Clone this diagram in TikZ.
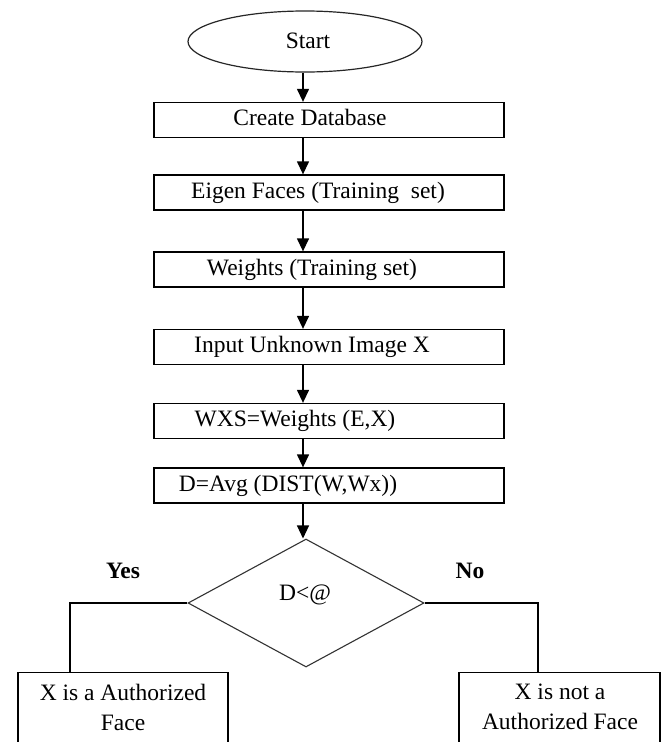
\documentclass[tikz,border=0pt]{standalone}
\usepackage{fontspec}
\setmainfont{Liberation Serif}
\usetikzlibrary{arrows.meta,shapes.geometric}
\tikzset{
  boxed/.style={draw=black,line width=1.3pt,minimum width=350pt,minimum height=35pt,inner sep=0pt},
  txt/.style={inner sep=0pt,font=\fontsize{23.5}{30}\selectfont,text height=16pt,text depth=5pt},
  arr/.style={draw=black,line width=1.3pt,-{Triangle[width=12pt,length=13pt]}},
  link/.style={draw=black,line width=1.2pt},
}
\begin{document}
\begin{tikzpicture}[x=1pt,y=-1pt]
\clip (0,0) rectangle (665,742);
\fill[white] (0,0) rectangle (665,742);
\coordinate (ax) at (303,0);
% start
\node[draw=black!85,line width=1.2pt,ellipse,minimum width=234pt,minimum height=61pt,inner sep=0pt] (start) at (305,41.5) {};
\node[txt] (tstart) at (308,43) {Start};
% process boxes
\node[boxed] (b1) at (329,120) {};
\node[txt] (t1) at (310,120) {Create Database};
\node[boxed] (b2) at (329,192.5) {};
\node[txt] (t2) at (318,192.5) {Eigen Faces (Training \ set)};
\node[boxed] (b3) at (329,269.5) {};
\node[txt] (t3) at (312,269.5) {Weights (Training set)};
\node[boxed] (b4) at (329,347) {};
\node[txt] (t4) at (312,347) {Input Unknown Image X};
\node[boxed] (b5) at (329,421) {};
\node[txt] (t5) at (295,421) {WXS=Weights (E,X)};
\node[boxed] (b6) at (329,485.5) {};
\node[txt] (t6) at (288,485.5) {D=Avg (DIST(W,Wx))};
% decision
\node[draw=black!80,line width=1.1pt,diamond,minimum width=236pt,minimum height=128pt,inner sep=0pt] (dec) at (306,603) {};
\node[txt] (tdec) at (305,595) {D<@};
\node[txt,font=\fontsize{23.5}{30}\selectfont\bfseries] (yes) at (123,573) {Yes};
\node[txt,font=\fontsize{23.5}{30}\selectfont\bfseries] (no) at (470,573) {No};
% result boxes
\node[draw=black,line width=1.3pt,minimum width=210pt,minimum height=110pt,inner sep=0pt,anchor=north] (ry) at (123,672) {};
\node[inner sep=0pt,align=center,font=\fontsize{23.5}{30}\selectfont,anchor=north] (try) at (123,684) {X is a Authorized\\Face};
\node[draw=black,line width=1.3pt,minimum width=201pt,minimum height=110pt,inner sep=0pt,anchor=north] (rn) at (559.5,672) {};
\node[inner sep=0pt,align=center,font=\fontsize{23.5}{30}\selectfont,anchor=north] (trn) at (560,684) {X is not a\\Authorized Face};
% connectors
\draw[arr] (start.south -| ax) -- (b1.north -| ax);
\draw[arr] (b1.south -| ax) -- (b2.north -| ax);
\draw[arr] (b2.south -| ax) -- (b3.north -| ax);
\draw[arr] (b3.south -| ax) -- (b4.north -| ax);
\draw[arr] (b4.south -| ax) -- (b5.north -| ax);
\draw[arr] (b5.south -| ax) -- (b6.north -| ax);
\draw[arr] (b6.south -| ax) -- (dec.north -| ax);
\coordinate (yl) at (70,672);
\coordinate (nl) at (538,672);
\draw[link] (dec.west) -| (yl);
\draw[link] (dec.east) -| (nl);
\end{tikzpicture}
\end{document}
